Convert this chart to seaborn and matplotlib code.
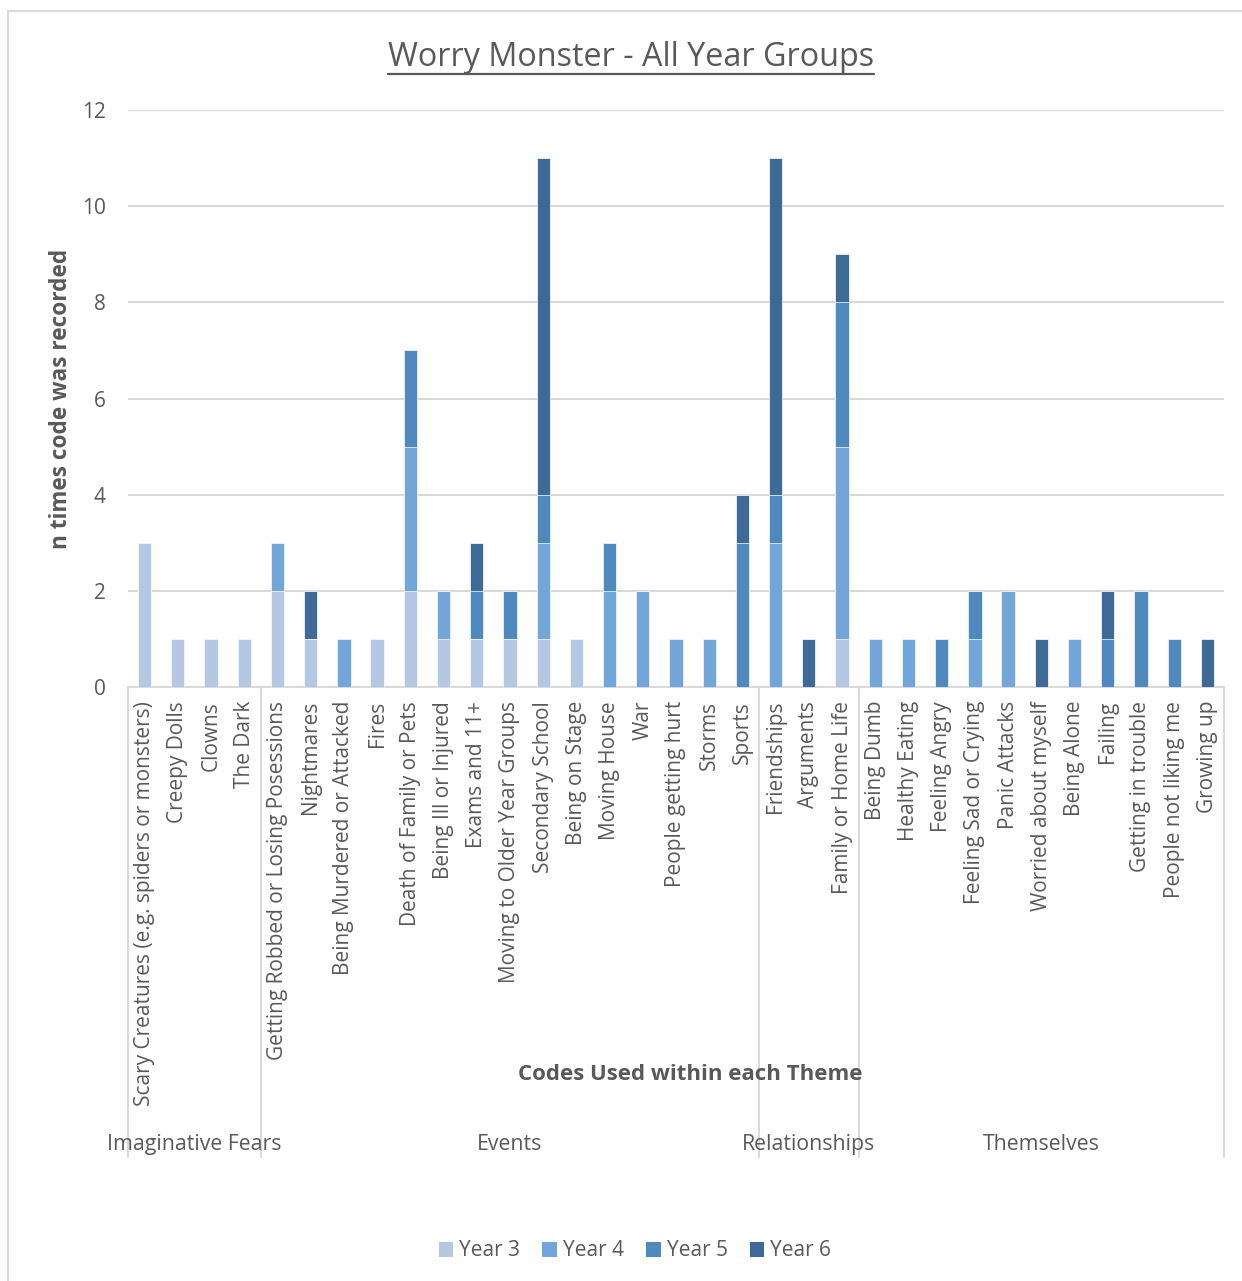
import matplotlib
matplotlib.use("Agg")
import matplotlib.pyplot as plt
import matplotlib.patches as mpatches
from matplotlib.lines import Line2D
import matplotlib.transforms as mtransforms
import numpy as np
import pandas as pd
import seaborn as sns

# ---- data -----------------------------------------------------------------
codes = [
    "Scary Creatures (e.g. spiders or monsters)", "Creepy Dolls", "Clowns", "The Dark",
    "Getting Robbed or Losing Posessions", "Nightmares", "Being Murdered or Attacked", "Fires",
    "Death of Family or Pets", "Being Ill or Injured", "Exams and 11+", "Moving to Older Year Groups",
    "Secondary School", "Being on Stage", "Moving House", "War", "People getting hurt", "Storms",
    "Sports",
    "Friendships", "Arguments", "Family or Home Life",
    "Being Dumb", "Healthy Eating", "Feeling Angry", "Feeling Sad or Crying", "Panic Attacks",
    "Worried about myself", "Being Alone", "Failing", "Getting in trouble", "People not liking me",
    "Growing up",
]
themes = ["Imaginative Fears", "Events", "Relationships", "Themselves"]
theme_sizes = [4, 15, 3, 11]

year3 = [3, 1, 1, 1, 2, 1, 0, 1, 2, 1, 1, 1, 1, 1, 0, 0, 0, 0, 0, 0, 0, 1, 0, 0, 0, 0, 0, 0, 0, 0, 0, 0, 0]
year4 = [0, 0, 0, 0, 1, 0, 1, 0, 3, 1, 0, 0, 2, 0, 2, 2, 1, 1, 0, 3, 0, 4, 1, 1, 0, 1, 2, 0, 1, 0, 0, 0, 0]
year5 = [0, 0, 0, 0, 0, 0, 0, 0, 2, 0, 1, 1, 1, 0, 1, 0, 0, 0, 3, 1, 0, 3, 0, 0, 1, 1, 0, 0, 0, 1, 2, 1, 0]
year6 = [0, 0, 0, 0, 0, 1, 0, 0, 0, 0, 1, 0, 7, 0, 0, 0, 0, 0, 1, 7, 1, 1, 0, 0, 0, 0, 0, 1, 0, 1, 0, 0, 1]

series_names = ["Year 3", "Year 4", "Year 5", "Year 6"]
series_colors = ["#b4c8e4", "#72a6d8", "#5089bd", "#3d6a96"]

# ---- style ----------------------------------------------------------------
sns.set_theme(style="white")
plt.rcParams["font.family"] = ["Open Sans", "DejaVu Sans"]
TXT = "#595959"
GRID = "#d9d9d9"
FS = 15

W, H = 1242, 1281
fig = plt.figure(figsize=(W / 100, H / 100), dpi=100)
fig.patch.set_facecolor("white")

ax = fig.add_axes([128 / W, 1 - 687 / H, (1224 - 128) / W, (687 - 110) / H])

df = pd.DataFrame({"code": codes, "Year 3": year3, "Year 4": year4,
                   "Year 5": year5, "Year 6": year6})
cum = df[series_names].cumsum(axis=1)

# stacked bars: draw cumulative totals from the top series down
for name, col in reversed(list(zip(series_names, series_colors))):
    sns.barplot(x=df["code"], y=cum[name], order=codes, color=col, saturation=1,
                width=0.4, edgecolor="white", linewidth=0.5, ax=ax, zorder=3)

ax.set_ylim(0, 12)
ax.set_xlim(-0.5, len(codes) - 0.5)
ax.set_yticks(np.arange(0, 13, 2))
ax.yaxis.grid(True, color=GRID, linewidth=1.5, zorder=0)
ax.set_axisbelow(True)
for s in ["left", "right", "top"]:
    ax.spines[s].set_visible(False)
ax.spines["bottom"].set_color(GRID)
ax.spines["bottom"].set_linewidth(1.5)

ax.tick_params(axis="y", length=0, pad=16, labelsize=FS, labelcolor=TXT)
ax.tick_params(axis="x", length=0, pad=10, labelsize=FS, labelcolor=TXT)
ax.set_xticks(range(len(codes)))
ax.set_xticklabels(codes, rotation=90, ha="center", va="top")

ax.set_xlabel("")
ax.set_ylabel("n times code was recorded", fontsize=16.3, fontweight="bold", color=TXT)
ax.yaxis.set_label_coords(-0.05, 0.5)

# theme separators and theme labels below the code labels
trans = mtransforms.blended_transform_factory(ax.transData, ax.transAxes)
y_line = -(1157 - 687) / (687 - 110)
y_lab = -(1145 - 687) / (687 - 110)
edges = np.concatenate([[0], np.cumsum(theme_sizes)]) - 0.5
for e in edges:
    ax.add_line(Line2D([e, e], [0, y_line], transform=trans, color=GRID,
                       linewidth=1.5, clip_on=False))
for name, a, b in zip(themes, edges[:-1], edges[1:]):
    ax.text((a + b) / 2, y_lab, name, transform=trans, ha="center", va="center",
            fontsize=15.3, color=TXT)

fig.text(690 / W, 1 - 1074 / H, "Codes Used within each Theme", ha="center",
         va="center", fontsize=16, fontweight="bold", color=TXT)

# title with underline
title = fig.text(631 / W, 1 - 58 / H, "Worry Monster - All Year Groups", ha="center",
                 va="center", fontsize=23.3, color=TXT)

# legend
handles = [mpatches.Patch(facecolor=c, edgecolor="none", label=n)
           for n, c in zip(series_names, series_colors)]
fig.legend(handles=handles, loc="center", bbox_to_anchor=(635 / W, 1 - 1251 / H),
           ncol=4, frameon=False, fontsize=FS, labelcolor=TXT,
           handlelength=0.7, handleheight=0.7, handletextpad=0.3, columnspacing=1.05)

# chart border
fig.add_artist(mpatches.Rectangle((8 / W, -0.1), 2, 1 - 11 / H + 0.1,
                                  transform=fig.transFigure, fill=False,
                                  edgecolor=GRID, linewidth=1.5))

fig.canvas.draw()
bb = title.get_window_extent()
uy = bb.y0 + 1
fig.add_artist(Line2D([bb.x0 / W, bb.x1 / W], [uy / H, uy / H],
                      transform=fig.transFigure, color=TXT, linewidth=1.6))

fig.savefig("out.png", dpi=100, facecolor="white")
